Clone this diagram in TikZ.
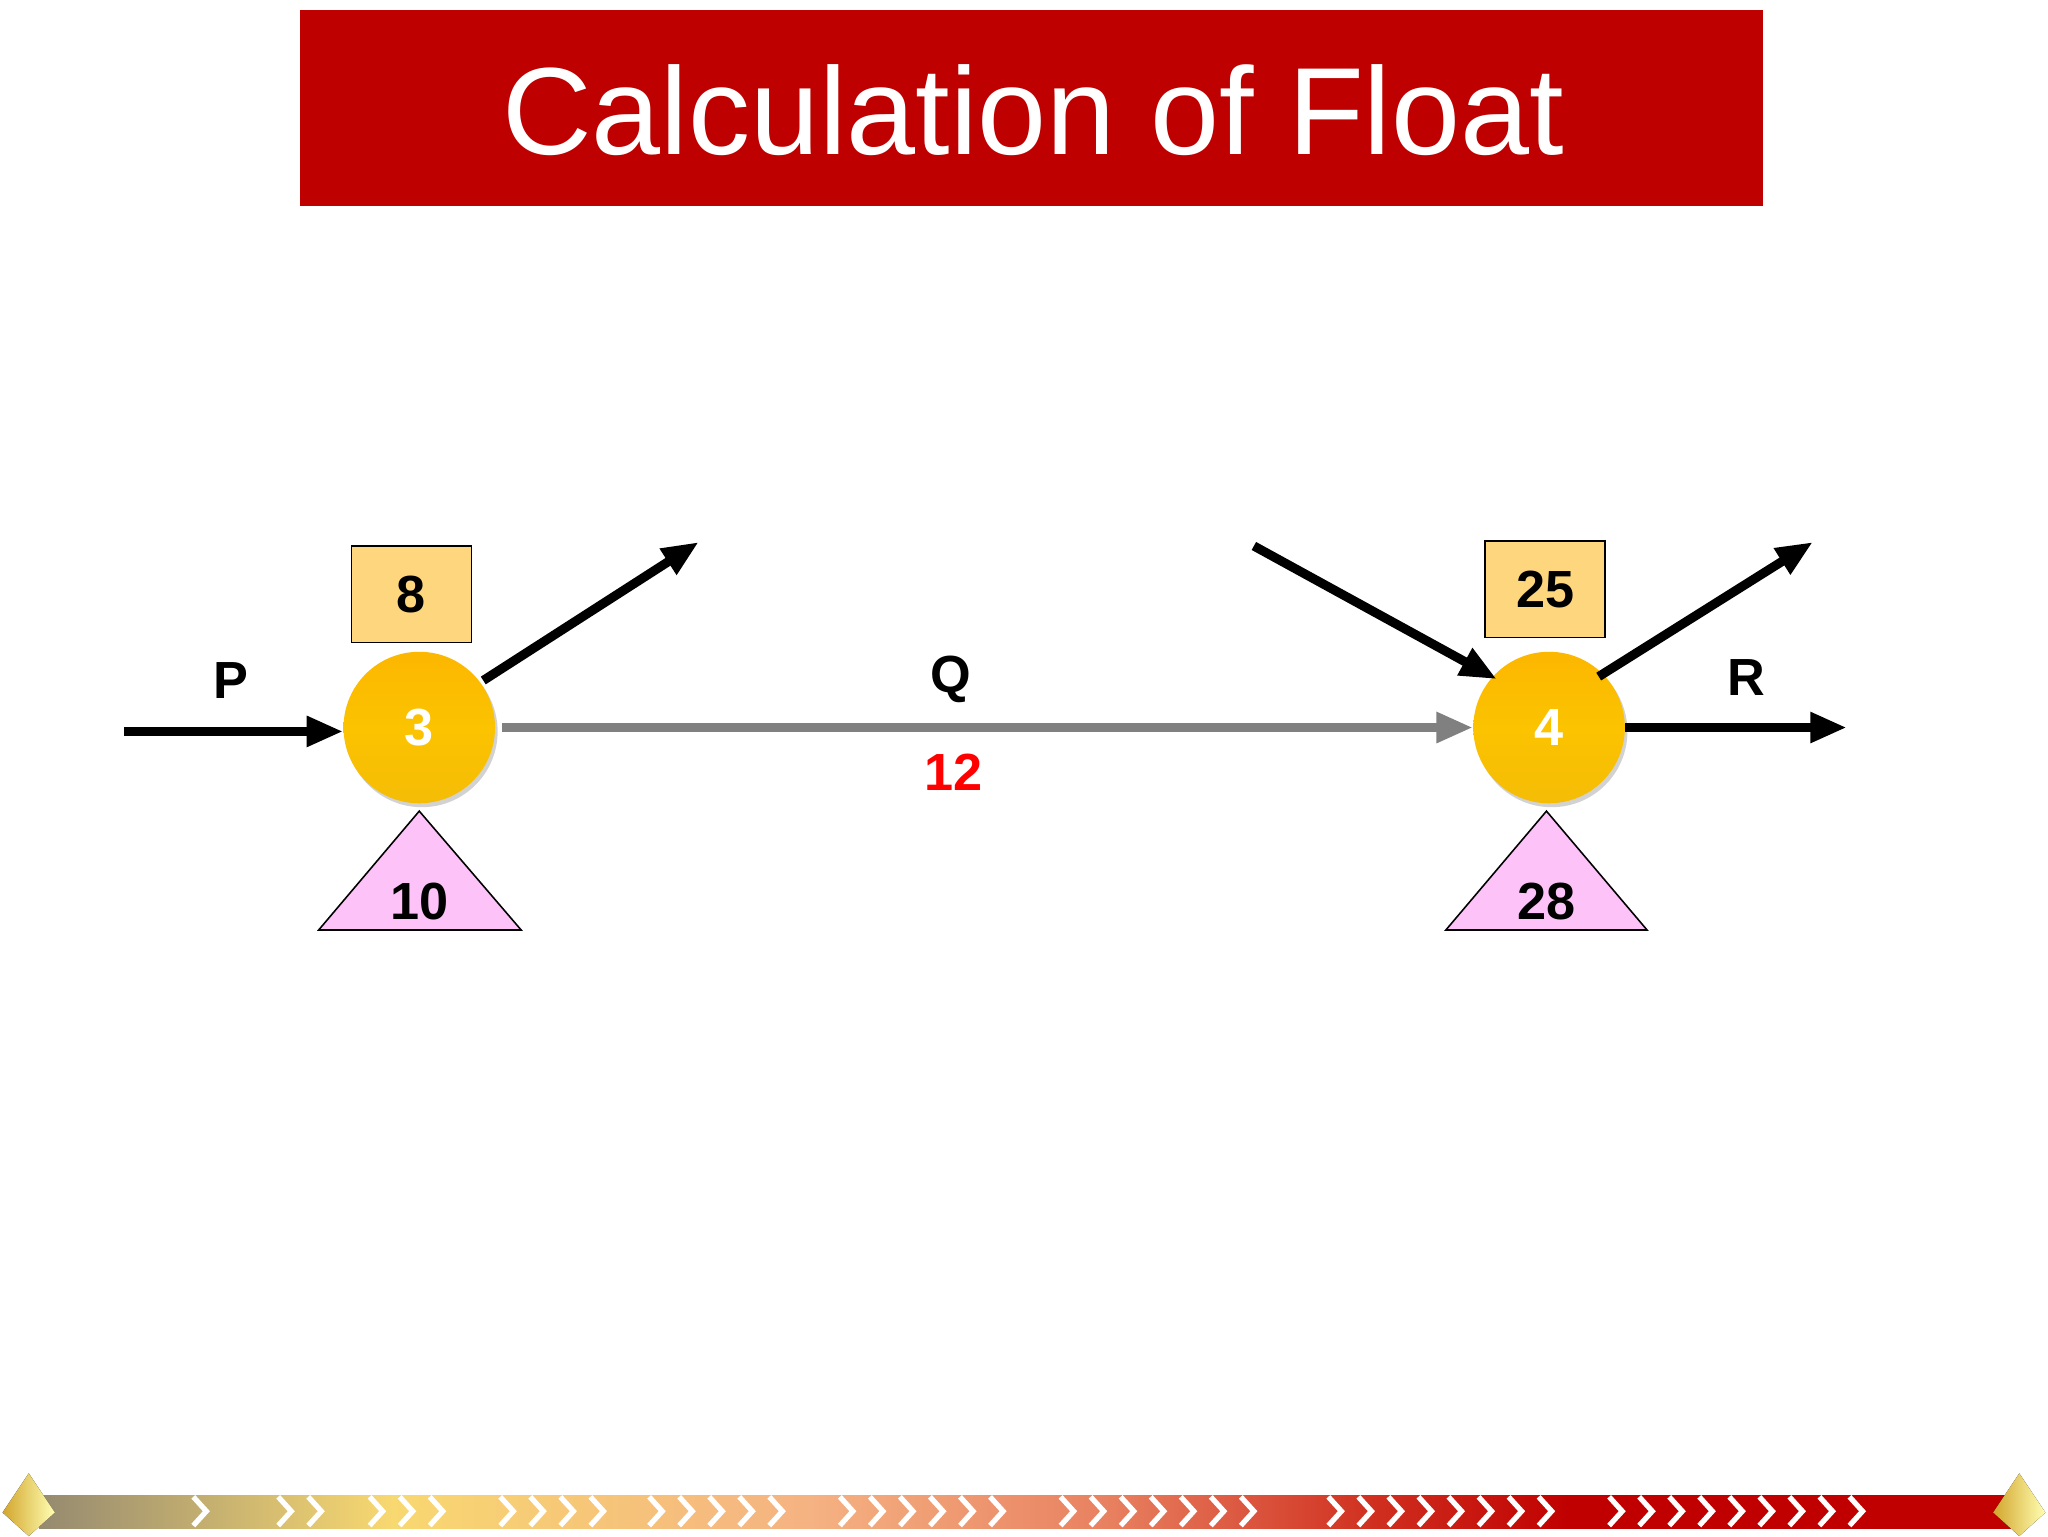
\documentclass[tikz,border=0pt]{standalone}
\usepackage{fontspec}
\setmainfont{Liberation Sans}
\usetikzlibrary{arrows.meta,shadows}
\definecolor{titlered}{HTML}{BE0000}
\definecolor{boxfill}{HTML}{FDD67E}
\definecolor{trifill}{HTML}{FDC3F9}
\definecolor{nodeyel}{HTML}{FBC300}
\definecolor{bA}{HTML}{958A70}
\definecolor{bB}{HTML}{F8D870}
\definecolor{bC}{HTML}{F5B282}
\definecolor{bD}{HTML}{E88060}
\definecolor{bE}{HTML}{D03020}
\definecolor{bF}{HTML}{C00000}
\begin{document}
\begin{tikzpicture}[x=1pt,y=-1pt,
  lbl/.style={font=\bfseries\fontsize{40}{40}\selectfont},
  evt/.style={circle,minimum size=116pt,inner sep=0pt,top color=nodeyel!70!orange!90!yellow,bottom color=nodeyel!90!brown,middle color=nodeyel,drop shadow={shadow xshift=2pt,shadow yshift=-3pt,opacity=0.35},text=white,lbl},
  est/.style={draw=black,line width=1.2pt,fill=boxfill,minimum width=92pt,minimum height=74pt,lbl},
  arr/.style={line width=7pt,-{Triangle[length=28pt,width=22pt]}},
  chev/.style={white,line width=4pt}]
\useasboundingbox (0,0) rectangle (1568,1176);
\fill[white] (0,0) rectangle (1568,1176);
% title
\fill[titlered] (230,8) rectangle (1350,158);
\node[text=white,font=\fontsize{95}{95}\selectfont] (title) at (791,84) {Calculation of Float};
% events
\node[evt] (e3) at (321,557) {3};
\node[evt] (e4) at (1186,557) {4};
\node[est] (b8) at (315,455) {8};
\node[est] (b25) at (1183,451) {25};
\path[draw=black,line width=1.2pt,fill=trifill] (321,621) -- (399,712) -- (244,712) -- cycle;
\node[lbl] (t10) at (321,690) {10};
\path[draw=black,line width=1.2pt,fill=trifill] (1184,621) -- (1261,712) -- (1107,712) -- cycle;
\node[lbl] (t28) at (1184,690) {28};
% arrows
\coordinate (pstart) at (95,560);
\draw[arr] (pstart) -- (e3.west|-pstart);
\node[lbl] (lp) at (177,521) {P};
\draw[arr,gray] (e3.east) ++(5,0) coordinate (qs) (qs) -- (e4.west);
\node[lbl] (lq) at (728,520) {Q};
\node[lbl,text=red] (l12) at (730,591) {12};
\coordinate (s1) at (370,521);
\coordinate (o1) at (535,415);
\draw[arr] (s1) -- (o1);
\coordinate (in2) at (960,418);
\coordinate (in2e) at (1146,520);
\draw[arr] (in2) -- (in2e);
\coordinate (s2) at (1224,518);
\coordinate (o2) at (1388,415);
\draw[arr] (s2) -- (o2);
\coordinate (rend) at (1414,557);
\draw[arr] (e4.east) -- (rend);
\node[lbl] (lr) at (1337,519) {R};
% bottom bar
\shade[left color=bA,right color=bB] (30,1145) rectangle (300,1170);
\shade[left color=bB,right color=bC] (299.5,1145) rectangle (620,1170);
\shade[left color=bC,right color=bD] (619.5,1145) rectangle (850,1170);
\shade[left color=bD,right color=bE] (849.5,1145) rectangle (1050,1170);
\shade[left color=bE,right color=bF] (1049.5,1145) rectangle (1200,1170);
\shade[left color=bF,right color=bF] (1199.5,1145) rectangle (1545,1170);
\foreach \s/\n in {148/1,213/2,283/3,383/4,497/5,643/6,812/7,1017/8,1232/9}{
  \foreach \i in {1,...,\n}{
    \draw[chev] ({\s+(\i-1)*23},1146) -- ({\s+(\i-1)*23+10},1157) -- ({\s+(\i-1)*23},1168);
  }
}
\foreach \cx in {22,1546}{
  \fill[left color=brown!70!yellow,right color=yellow!30!white] (\cx,1128) -- (\cx+20,1158) -- (\cx,1176) -- (\cx-20,1158) -- cycle;
}
\end{tikzpicture}
\end{document}
